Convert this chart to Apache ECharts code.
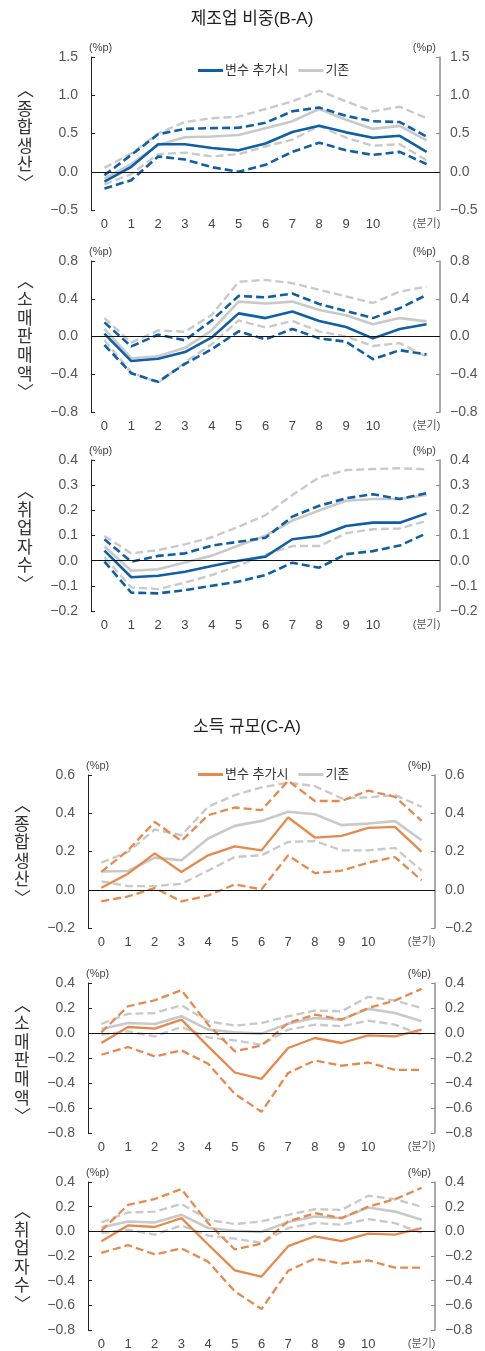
<!DOCTYPE html>
<html><head><meta charset="utf-8">
<script src="https://cdn.jsdelivr.net/npm/echarts@6/dist/echarts.min.js"></script>
<style>html,body{margin:0;padding:0;background:#fff}#c{width:485px;height:1351px}</style>
</head><body><div id="c"></div>
<script>
const categories = ['0','1','2','3','4','5','6','7','8','9','10','11','12'];
const xTickLabels = ['0','1','2','3','4','5','6','7','8','9','10','','(분기)'];

// 제조업 비중(B-A) — 종합생산
const p1Add    = [-0.13, 0.065, 0.36, 0.36, 0.31, 0.28, 0.37, 0.52, 0.60, 0.515, 0.445, 0.47, 0.26];
const p1AddUp  = [-0.045, 0.22, 0.49, 0.56, 0.57, 0.575, 0.64, 0.79, 0.84, 0.73, 0.66, 0.65, 0.46];
const p1AddLo  = [-0.22, -0.11, 0.20, 0.16, 0.06, 0.00, 0.09, 0.26, 0.38, 0.28, 0.22, 0.26, 0.10];
const p1Base   = [-0.09, 0.10, 0.35, 0.45, 0.46, 0.48, 0.57, 0.66, 0.82, 0.68, 0.56, 0.60, 0.41];
const p1BaseUp = [0.05, 0.24, 0.50, 0.65, 0.70, 0.72, 0.82, 0.92, 1.06, 0.92, 0.79, 0.85, 0.70];
const p1BaseLo = [-0.165, -0.03, 0.23, 0.25, 0.20, 0.23, 0.33, 0.42, 0.60, 0.445, 0.34, 0.36, 0.15];
// 소매판매액
const p2Add    = [0.03, -0.26, -0.235, -0.165, -0.01, 0.245, 0.195, 0.265, 0.165, 0.10, -0.02, 0.08, 0.13];
const p2AddUp  = [0.15, -0.105, 0.02, -0.04, 0.17, 0.43, 0.415, 0.455, 0.345, 0.27, 0.195, 0.30, 0.44];
const p2AddLo  = [-0.09, -0.39, -0.48, -0.29, -0.135, 0.055, -0.03, 0.08, -0.02, -0.055, -0.24, -0.145, -0.19];
const p2Base   = [0.08, -0.23, -0.21, -0.12, 0.065, 0.37, 0.35, 0.37, 0.28, 0.225, 0.13, 0.195, 0.16];
const p2BaseUp = [0.195, -0.065, 0.065, 0.05, 0.23, 0.58, 0.60, 0.565, 0.495, 0.425, 0.355, 0.475, 0.53];
const p2BaseLo = [-0.04, -0.38, -0.49, -0.275, -0.08, 0.17, 0.095, 0.165, 0.055, 0.00, -0.10, -0.07, -0.215];
// 취업자수
const p3Add    = [0.04, -0.066, -0.06, -0.044, -0.021, 0.0, 0.016, 0.085, 0.098, 0.138, 0.151, 0.151, 0.188];
const p3AddUp  = [0.085, -0.004, 0.019, 0.029, 0.06, 0.075, 0.091, 0.175, 0.218, 0.248, 0.264, 0.245, 0.268];
const p3AddLo  = [-0.004, -0.127, -0.13, -0.117, -0.10, -0.083, -0.057, -0.008, -0.028, 0.026, 0.038, 0.06, 0.109];
const p3Base   = [0.056, -0.04, -0.034, -0.007, 0.02, 0.06, 0.099, 0.159, 0.199, 0.238, 0.245, 0.245, 0.261];
const p3BaseUp = [0.098, 0.029, 0.042, 0.065, 0.093, 0.135, 0.181, 0.261, 0.331, 0.36, 0.364, 0.367, 0.363];
const p3BaseLo = [0.013, -0.106, -0.113, -0.087, -0.057, -0.02, 0.025, 0.058, 0.058, 0.109, 0.125, 0.128, 0.158];

// 소득 규모(C-A) — 종합생산
const p4Add    = [0.01, 0.084, 0.19, 0.093, 0.18, 0.227, 0.206, 0.378, 0.273, 0.282, 0.324, 0.329, 0.198];
const p4AddUp  = [0.093, 0.206, 0.355, 0.255, 0.39, 0.43, 0.416, 0.57, 0.464, 0.464, 0.518, 0.486, 0.36];
const p4AddLo  = [-0.061, -0.035, 0.009, -0.061, -0.03, 0.028, 0.002, 0.18, 0.087, 0.10, 0.142, 0.171, 0.049];
const p4Base   = [0.096, 0.098, 0.168, 0.154, 0.268, 0.334, 0.36, 0.408, 0.395, 0.338, 0.346, 0.359, 0.259];
const p4BaseUp = [0.142, 0.198, 0.315, 0.285, 0.434, 0.495, 0.535, 0.56, 0.542, 0.478, 0.483, 0.495, 0.434];
const p4BaseLo = [0.044, 0.019, 0.019, 0.031, 0.10, 0.171, 0.18, 0.25, 0.255, 0.206, 0.206, 0.219, 0.10];
// 소매판매액
const p5Add    = [-0.08, 0.048, 0.035, 0.107, -0.107, -0.316, -0.367, -0.12, -0.04, -0.08, -0.019, -0.027, 0.027];
const p5AddUp  = [0.005, 0.214, 0.262, 0.343, 0.067, -0.147, -0.10, 0.08, 0.147, 0.107, 0.20, 0.26, 0.353];
const p5AddLo  = [-0.174, -0.112, -0.187, -0.139, -0.246, -0.487, -0.63, -0.32, -0.22, -0.262, -0.236, -0.295, -0.295];
const p5Base   = [0.032, 0.08, 0.072, 0.134, 0.027, 0.005, -0.005, 0.075, 0.12, 0.107, 0.193, 0.16, 0.094];
const p5BaseUp = [0.072, 0.153, 0.16, 0.222, 0.094, 0.059, 0.08, 0.134, 0.179, 0.174, 0.289, 0.26, 0.20];
const p5BaseLo = [-0.013, 0.013, -0.027, 0.048, -0.035, -0.059, -0.094, 0.027, 0.067, 0.054, 0.099, 0.067, -0.013];
// 취업자수 (as printed in the reference)
const p6Add    = [-0.08, 0.048, 0.035, 0.107, -0.107, -0.316, -0.367, -0.12, -0.04, -0.08, -0.019, -0.027, 0.027];
const p6AddUp  = [0.005, 0.214, 0.262, 0.343, 0.067, -0.147, -0.10, 0.08, 0.147, 0.107, 0.20, 0.26, 0.353];
const p6AddLo  = [-0.174, -0.112, -0.187, -0.139, -0.246, -0.487, -0.63, -0.32, -0.22, -0.262, -0.236, -0.295, -0.295];
const p6Base   = [0.032, 0.08, 0.072, 0.134, 0.027, 0.005, -0.005, 0.075, 0.12, 0.107, 0.193, 0.16, 0.094];
const p6BaseUp = [0.072, 0.153, 0.16, 0.222, 0.094, 0.059, 0.08, 0.134, 0.179, 0.174, 0.289, 0.26, 0.20];
const p6BaseLo = [-0.013, 0.013, -0.027, 0.048, -0.035, -0.059, -0.094, 0.027, 0.067, 0.054, 0.099, 0.067, -0.013];

const FONT = "'Liberation Sans','Noto Sans CJK KR',sans-serif";
const BLUE = '#0f5fa6', ORANGE = '#e8894c', GRAY = '#c9c9c9';

const panels = [
  {grid:{left:91, top:57, width:349, height:153}, min:-0.5, max:1.5, interval:0.5, color:BLUE, name:'변수 추가시', baseName:'기존',
   d:[p1Add,p1AddUp,p1AddLo,p1Base,p1BaseUp,p1BaseLo], label:['︿','종','합','생','산','﹀'], lx:27, ly:136},
  {grid:{left:91, top:261, width:349, height:151}, min:-0.8, max:0.8, interval:0.4, color:BLUE, name:'변수 추가시', baseName:'기존',
   d:[p2Add,p2AddUp,p2AddLo,p2Base,p2BaseUp,p2BaseLo], label:['︿','소','매','판','매','액','﹀'], lx:27, ly:336},
  {grid:{left:91, top:460, width:349, height:151}, min:-0.2, max:0.4, interval:0.1, color:BLUE, name:'변수 추가시', baseName:'기존',
   d:[p3Add,p3AddUp,p3AddLo,p3Base,p3BaseUp,p3BaseLo], label:['︿','취','업','자','수','﹀'], lx:27, ly:537},
  {grid:{left:88, top:775, width:347, height:153}, min:-0.2, max:0.6, interval:0.2, color:ORANGE, name:'변수 추가시 ', baseName:'기존 ',
   d:[p4Add,p4AddUp,p4AddLo,p4Base,p4BaseUp,p4BaseLo], label:['︿','종','합','생','산','﹀'], lx:24, ly:851},
  {grid:{left:88, top:983, width:347, height:150}, min:-0.8, max:0.4, interval:0.2, color:ORANGE, name:'변수 추가시 ', baseName:'기존 ',
   d:[p5Add,p5AddUp,p5AddLo,p5Base,p5BaseUp,p5BaseLo], label:['︿','소','매','판','매','액','﹀'], lx:24, ly:1060},
  {grid:{left:88, top:1182, width:347, height:150}, min:-0.8, max:0.4, interval:0.2, color:ORANGE, name:'변수 추가시 ', baseName:'기존 ',
   d:[p6Add,p6AddUp,p6AddLo,p6Base,p6BaseUp,p6BaseLo], label:['︿','취','업','자','수','﹀'], lx:24, ly:1257}
];

const fmtY = v => { const r = Math.round(v*10)/10; return (r < 0 ? '\u2212' : '') + Math.abs(r).toFixed(1); };

const grid = [], xAxis = [], yAxis = [], series = [], graphic = [];
panels.forEach((p, i) => {
  grid.push(p.grid);
  xAxis.push({
    type:'category', gridIndex:i, data:categories, boundaryGap:true,
    axisLine:{show:false}, axisTick:{show:false},
    axisLabel:{interval:0, margin:8, color:'#444', fontSize:13, fontFamily:FONT,
      formatter:(v, idx) => idx === 12 ? '{u|' + xTickLabels[idx] + '}' : xTickLabels[idx],
      rich:{u:{fontSize:11, color:'#555', fontFamily:FONT, padding:[0,0,4,0]}}}
  });
  const yCommon = {type:'value', gridIndex:i, min:p.min, max:p.max, interval:p.interval, splitLine:{show:false},
    name:'(%p)', nameLocation:'end', nameGap:4};
  yAxis.push(Object.assign({}, yCommon, {
    position:'left',
    axisLine:{show:true, lineStyle:{color:'#222', width:1}},
    axisTick:{show:true, inside:true, length:4, lineStyle:{color:'#222'}},
    axisLabel:{formatter:fmtY, color:'#555', fontSize:14, fontFamily:FONT, margin:13},
    nameTextStyle:{align:'left', color:'#444', fontSize:11, fontFamily:FONT, padding:[0,0,0,-2]}
  }));
  yAxis.push(Object.assign({}, yCommon, {
    position:'right',
    axisLine:{show:true, lineStyle:{color:'#8c8c8c', width:1.5}},
    axisTick:{show:true, inside:true, length:4, lineStyle:{color:'#8c8c8c'}},
    axisLabel:{formatter:fmtY, color:'#555', fontSize:14, fontFamily:FONT, margin:10},
    nameTextStyle:{align:'right', color:'#444', fontSize:11, fontFamily:FONT, padding:[0,4,0,0]}
  }));
  const mk = (name, data, color, dashed, w) => ({
    type:'line', name, data, xAxisIndex:i, yAxisIndex:2*i, symbol:'none', silent:true,
    lineStyle:{color, width:w, type: dashed ? [8,4] : 'solid'}, itemStyle:{color}, animation:false
  });
  const [add, addUp, addLo, base, baseUp, baseLo] = p.d;
  const w = p.color === BLUE ? 2.6 : 2.3;
  const gUp = mk('base_up_'+i, baseUp, GRAY, true, 2.4);
  gUp.markLine = {silent:true, symbol:['none','none'], label:{show:false}, animation:false,
    lineStyle:{color:'#111', width:1, type:'solid'}, data:[{yAxis:0}]};
  series.push(gUp);
  series.push(mk('base_lo_'+i, baseLo, GRAY, true, 2.4));
  series.push(mk(i === 0 || i === 3 ? p.baseName : 'base_'+i, base, GRAY, false, 2.6));
  series.push(mk('add_up_'+i, addUp, p.color, true, w));
  series.push(mk('add_lo_'+i, addLo, p.color, true, w));
  series.push(mk(i === 0 || i === 3 ? p.name : 'add_'+i, add, p.color, false, w));
  graphic.push({type:'text', left:p.lx - 10, top:p.ly - p.label.length*18.6/2, silent:true,
    style:{text:p.label.join('\n'), fill:'#333', font:"17px 'Noto Sans CJK KR', sans-serif", lineHeight:18.6, align:'center', width:20}});
});

const legendCommon = {orient:'horizontal', itemWidth:25, itemHeight:3, itemGap:10, icon:'rect',
  textStyle:{color:'#333', fontSize:13, fontFamily:FONT, padding:[0,0,0,-3]}, selectedMode:false,
  formatter: n => n.trim()};

const option = {
  backgroundColor:'#fff',
  animation:false,
  title:[
    {text:'제조업 비중(B-A)', left:247, top:6, textAlign:'center', textStyle:{fontSize:17, fontWeight:'normal', color:'#222', fontFamily:FONT}},
    {text:'소득 규모(C-A)', left:242, top:714, textAlign:'center', textStyle:{fontSize:17, fontWeight:'normal', color:'#222', fontFamily:FONT}}
  ],
  legend:[
    Object.assign({}, legendCommon, {left:193, top:59, data:['변수 추가시','기존']}),
    Object.assign({}, legendCommon, {left:193, top:763, data:['변수 추가시 ','기존 ']})
  ],
  grid, xAxis, yAxis, series, graphic
};

const chart = echarts.init(document.getElementById('c'), null, {renderer:'canvas', width:485, height:1351});
chart.setOption(option);
</script>
</body></html>
